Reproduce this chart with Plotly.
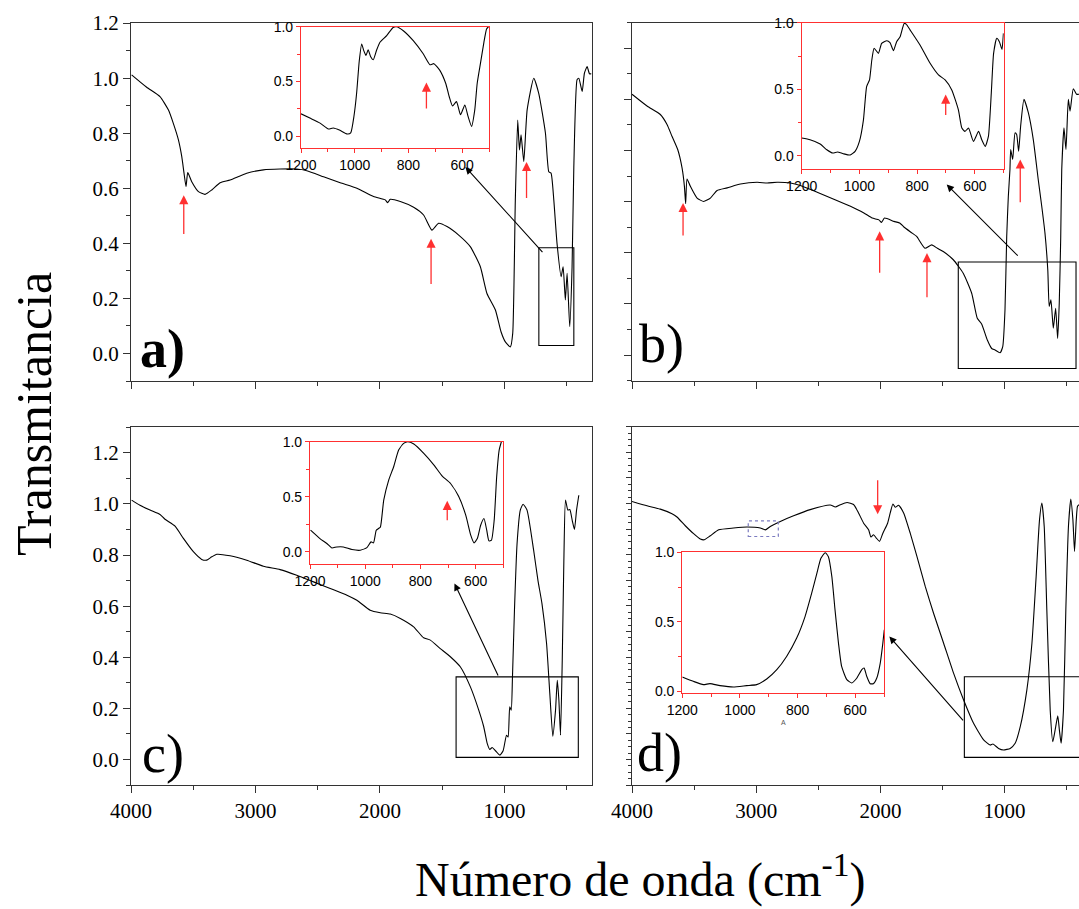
import plotly.graph_objects as go

W, H = 1079, 909

# ---------------- spectra: wavenumber (cm-1) / transmittance ----------------
# a) main spectrum
wn_a = [3995, 3874, 3767, 3700, 3660, 3619, 3592, 3574, 3558, 3544, 3512, 3458, 3405, 3351,
        3284, 3204, 3070, 2936, 2802, 2668, 2587, 2453, 2319, 2185, 2051, 1957, 1938, 1917,
        1836, 1729, 1649, 1582, 1528, 1461, 1367, 1274, 1193, 1140, 1072, 1027, 992, 952,
        933, 912, 893, 879, 866, 844, 817, 764, 724, 670, 643, 625, 603, 577, 544, 528, 510,
        496, 475, 456, 442, 416, 402, 375, 357, 335, 316, 300]
tr_a = [1.012, 0.967, 0.933, 0.885, 0.836, 0.776, 0.715, 0.655, 0.606, 0.657, 0.624, 0.588,
        0.578, 0.594, 0.620, 0.630, 0.655, 0.667, 0.670, 0.670, 0.664, 0.642, 0.620, 0.600,
        0.570, 0.558, 0.548, 0.560, 0.552, 0.531, 0.503, 0.448, 0.473, 0.461, 0.430, 0.388,
        0.315, 0.218, 0.158, 0.079, 0.042, 0.024, 0.073, 0.558, 0.848, 0.739, 0.794, 0.697,
        0.885, 1.000, 0.945, 0.800, 0.660, 0.655, 0.558, 0.400, 0.279, 0.315, 0.194, 0.291,
        0.097, 0.315, 0.679, 0.994, 1.000, 0.952, 1.018, 1.042, 1.016, 1.016]

# a) inset, 1200-500 cm-1 (normalised)
wn_a_in = [1200, 1167, 1129, 1098, 1080, 1055, 1028, 1015, 1003, 993, 983, 974, 966, 958, 950,
           941, 931, 919, 906, 881, 857, 844, 819, 782, 745, 720, 705, 683, 661, 648, 636,
           621, 606, 590, 578, 565, 553, 544, 532, 519, 509, 502]
tr_a_in = [0.205, 0.166, 0.120, 0.066, 0.075, 0.054, 0.021, 0.030, 0.180, 0.390, 0.690, 0.843,
           0.780, 0.738, 0.790, 0.729, 0.699, 0.783, 0.858, 0.919, 0.994, 1.000, 0.964, 0.873,
           0.753, 0.654, 0.663, 0.602, 0.482, 0.361, 0.277, 0.316, 0.196, 0.286, 0.181, 0.090,
           0.241, 0.482, 0.663, 0.858, 0.979, 1.000]

# b) main spectrum
wn_b = [4000, 3879, 3772, 3718, 3678, 3632, 3597, 3578, 3568, 3557, 3530, 3476, 3423, 3369,
        3315, 3234, 3127, 2993, 2912, 2832, 2724, 2644, 2509, 2375, 2241, 2133, 2066, 2012,
        1991, 1967, 1891, 1842, 1811, 1744, 1708, 1641, 1587, 1542, 1494, 1413, 1333, 1265,
        1220, 1185, 1139, 1104, 1077, 1037, 1015, 997, 983, 970, 957, 951, 935, 916, 903,
        887, 871, 844, 809, 769, 729, 701, 675, 652, 641, 627, 608, 589, 573, 560, 548, 540,
        522, 506, 487, 473, 447, 420, 401]
tr_b = [1.020, 0.974, 0.941, 0.902, 0.856, 0.804, 0.732, 0.660, 0.592, 0.689, 0.660, 0.614,
        0.601, 0.614, 0.644, 0.654, 0.669, 0.676, 0.673, 0.676, 0.673, 0.663, 0.637, 0.610,
        0.582, 0.556, 0.536, 0.529, 0.519, 0.536, 0.523, 0.516, 0.501, 0.477, 0.464, 0.418,
        0.431, 0.418, 0.405, 0.373, 0.320, 0.242, 0.144, 0.122, 0.059, 0.026, 0.020, 0.009,
        0.033, 0.176, 0.464, 0.621, 0.725, 0.804, 0.765, 0.869, 0.863, 0.797, 0.895, 1.000,
        0.948, 0.843, 0.686, 0.582, 0.477, 0.330, 0.190, 0.216, 0.105, 0.183, 0.065, 0.203,
        0.464, 0.725, 0.889, 0.804, 1.000, 0.954, 1.042, 1.020, 1.020]

# b) inset
wn_b_in = [1200, 1171, 1136, 1113, 1092, 1076, 1056, 1032, 1015, 1000, 986, 975, 965, 957, 949,
           934, 923, 905, 894, 882, 871, 859, 845, 838, 824, 790, 755, 726, 703, 680, 657,
           645, 634, 622, 605, 587, 576, 564, 553, 543, 535, 524, 515, 506, 501]
tr_b_in = [0.133, 0.120, 0.088, 0.045, 0.020, 0.028, 0.015, 0.005, 0.033, 0.108, 0.270, 0.520,
           0.570, 0.720, 0.808, 0.770, 0.845, 0.865, 0.850, 0.790, 0.858, 0.895, 0.995, 0.990,
           0.945, 0.833, 0.695, 0.608, 0.570, 0.495, 0.345, 0.208, 0.183, 0.208, 0.108, 0.183,
           0.120, 0.070, 0.145, 0.470, 0.770, 0.883, 0.858, 0.800, 0.920]

# c) main spectrum
wn_c = [3995, 3928, 3847, 3767, 3727, 3646, 3579, 3499, 3432, 3391, 3351, 3311, 3204, 3070,
        2936, 2802, 2668, 2533, 2399, 2265, 2185, 2078, 1997, 1917, 1836, 1729, 1649, 1595,
        1515, 1434, 1353, 1273, 1206, 1166, 1138, 1117, 1098, 1072, 1037, 1010, 983, 970,
        957, 945, 935, 919, 898, 872, 850, 818, 765, 730, 698, 661, 635, 611, 589, 575, 562,
        549, 535, 522, 509, 490, 474, 455, 437, 420, 402]
tr_c = [1.015, 0.995, 0.976, 0.959, 0.940, 0.913, 0.865, 0.813, 0.783, 0.780, 0.793, 0.803,
        0.797, 0.780, 0.756, 0.743, 0.721, 0.695, 0.669, 0.643, 0.623, 0.584, 0.574, 0.569,
        0.552, 0.519, 0.476, 0.467, 0.434, 0.402, 0.362, 0.284, 0.193, 0.128, 0.063, 0.039,
        0.047, 0.034, 0.017, 0.034, 0.095, 0.088, 0.206, 0.193, 0.323, 0.584, 0.845, 0.976,
        0.999, 0.976, 0.819, 0.700, 0.610, 0.454, 0.258, 0.091, 0.193, 0.310, 0.232, 0.095,
        0.388, 0.780, 1.015, 0.976, 0.978, 0.936, 0.900, 0.976, 1.034]

# c) inset
wn_c_in = [1198, 1164, 1139, 1121, 1103, 1079, 1048, 1018, 994, 979, 970, 960, 952, 945, 933,
           915, 897, 879, 861, 846, 824, 788, 751, 721, 691, 661, 636, 618, 606, 594, 582,
           570, 560, 552, 543, 533, 524, 515, 507]
tr_c_in = [0.197, 0.121, 0.076, 0.036, 0.045, 0.045, 0.021, 0.015, 0.039, 0.091, 0.082, 0.197,
           0.212, 0.227, 0.470, 0.652, 0.773, 0.924, 0.985, 1.000, 0.979, 0.894, 0.788, 0.688,
           0.621, 0.500, 0.333, 0.152, 0.082, 0.121, 0.242, 0.303, 0.197, 0.100, 0.106, 0.288,
           0.682, 0.924, 1.000]

# d) main spectrum
wn_d = [4000, 3879, 3772, 3678, 3638, 3571, 3504, 3450, 3418, 3369, 3302, 3182, 3074, 2967,
        2927, 2887, 2806, 2699, 2565, 2404, 2363, 2323, 2269, 2216, 2176, 2135, 2095, 2076,
        2055, 2033, 2007, 1980, 1942, 1921, 1899, 1880, 1854, 1813, 1760, 1706, 1639, 1572,
        1491, 1411, 1330, 1250, 1169, 1116, 1094, 1049, 1009, 955, 915, 874, 821, 780, 746,
        719, 700, 681, 660, 633, 612, 593, 572, 559, 545, 526, 507, 486, 467, 450, 437, 423,
        413, 400]
tr_d = [1.008, 0.991, 0.978, 0.960, 0.947, 0.913, 0.882, 0.861, 0.858, 0.874, 0.897, 0.904,
        0.908, 0.904, 0.897, 0.910, 0.930, 0.952, 0.976, 0.994, 0.986, 0.995, 1.004, 0.996,
        0.963, 0.923, 0.897, 0.869, 0.878, 0.865, 0.852, 0.884, 0.923, 0.963, 0.998, 0.985,
        0.993, 0.963, 0.884, 0.793, 0.676, 0.571, 0.454, 0.337, 0.232, 0.141, 0.076, 0.056,
        0.060, 0.043, 0.037, 0.043, 0.063, 0.128, 0.271, 0.454, 0.715, 0.936, 1.002, 0.910,
        0.584, 0.193, 0.069, 0.115, 0.170, 0.115, 0.063, 0.193, 0.584, 0.910, 1.017, 0.936,
        0.813, 0.936, 0.989, 0.995]

# d) inset
wn_d_in = [1200, 1162, 1127, 1104, 1069, 1023, 977, 942, 907, 872, 838, 803, 774, 751, 733,
           719, 704, 693, 681, 670, 658, 647, 629, 612, 594, 577, 569, 560, 548, 537, 525,
           513, 504, 499]
tr_d_in = [0.103, 0.072, 0.048, 0.055, 0.041, 0.031, 0.041, 0.048, 0.089, 0.156, 0.251, 0.383,
           0.538, 0.706, 0.849, 0.957, 0.998, 0.969, 0.825, 0.586, 0.347, 0.179, 0.084, 0.060,
           0.096, 0.156, 0.167, 0.108, 0.055, 0.055, 0.096, 0.203, 0.347, 0.443]

# ---------------- styling ----------------
AXC = "#333333"
RED = "#ff3030"
SERIF = "Liberation Serif, Times New Roman, serif"
SANS = "Liberation Sans, Arial, sans-serif"


def dom_x(left, right):
    return [left / W, min(right / W, 1.0)]


def dom_y(top, bottom):
    return [1 - bottom / H, 1 - top / H]


fig = go.Figure()

series = [
    (wn_a, tr_a, "x", "y"), (wn_b, tr_b, "x2", "y2"),
    (wn_c, tr_c, "x3", "y3"), (wn_d, tr_d, "x4", "y4"),
    (wn_a_in, tr_a_in, "x5", "y5"), (wn_b_in, tr_b_in, "x6", "y6"),
    (wn_c_in, tr_c_in, "x7", "y7"), (wn_d_in, tr_d_in, "x8", "y8"),
]
for xs, ys, xa, ya in series:
    fig.add_trace(go.Scatter(x=xs, y=ys, xaxis=xa, yaxis=ya, mode="lines",
                             line=dict(color="black", width=1.1, shape="spline", smoothing=0.5),
                             showlegend=False, hoverinfo="skip"))

layout = {}

# main panels: index, x pixels, y pixels, x range, y range, x labels, y labels, y minor step, right frame
mains = [
    (1, (131, 591.5), (23, 381), [4000, 300], [-0.1, 1.2005], False, True, 0.1, True),
    (2, (632, 1079), (22.7, 380.7), [4000, 401], [-0.1, 1.3], False, False, 0.1, False),
    (3, (131, 591.5), (427.3, 785), [4000, 300], [-0.1, 1.3], True, True, 0.1, True),
    (4, (632, 1079), (426.7, 785), [4000, 401], [-0.1, 1.3], True, False, 0.025, False),
]
for i, xd, yd, xr, yr, xlab, ylab, ymin, rframe in mains:
    s = "" if i == 1 else str(i)
    layout["xaxis" + s] = dict(
        domain=dom_x(*xd), range=xr, anchor="y" + s, showline=True, linecolor=AXC,
        linewidth=1.2, mirror=True, ticks="outside", ticklen=7, tickwidth=1.2,
        tickcolor=AXC, tick0=0, dtick=1000, automargin=False,
        minor=dict(dtick=500, ticks="outside", ticklen=4, tickwidth=1, tickcolor=AXC),
        showgrid=False, zeroline=False, showticklabels=xlab,
        tickfont=dict(family=SERIF, size=21, color="black"))
    layout["yaxis" + s] = dict(
        domain=dom_y(*yd), range=yr, anchor="x" + s, showline=True, linecolor=AXC,
        linewidth=1.2, mirror=rframe, ticks="outside", automargin=False,
        ticklen=7 if ymin == 0.1 else 5, tickwidth=1.2, tickcolor=AXC,
        tick0=0, dtick=0.2 if ymin == 0.1 else 0.1, tickformat=".1f",
        minor=dict(dtick=ymin, ticks="outside", ticklen=4 if ymin == 0.1 else 3,
                   tickwidth=1, tickcolor=AXC),
        showgrid=False, zeroline=False, showticklabels=ylab,
        tickfont=dict(family=SERIF, size=21, color="black"))

# insets: index, x pixels, y pixels, y range
insets = [
    (5, (301, 489), (26.7, 148.3), [-0.11, 1.0005]),
    (6, (801.7, 1003.7), (22.7, 169), [-0.1, 1.0005]),
    (7, (310, 503.3), (441.7, 564), [-0.11, 1.0005]),
    (8, (682.3, 884), (552.3, 692.7), [-0.01, 1.0005]),
]
for i, xd, yd, yr in insets:
    s = str(i)
    common = dict(showline=True, linecolor=RED, linewidth=1.2, mirror=True,
                  ticks="outside", ticklen=4, tickwidth=1, tickcolor=RED,
                  showgrid=False, zeroline=False, automargin=False,
                  tickfont=dict(family=SANS, size=14, color="black"))
    layout["xaxis" + s] = dict(domain=dom_x(*xd), range=[1200, 500], anchor="y" + s,
                               tick0=0, dtick=200,
                               minor=dict(dtick=100, ticks="outside", ticklen=3,
                                          tickcolor=RED), **common)
    layout["yaxis" + s] = dict(domain=dom_y(*yd), range=yr, anchor="x" + s,
                               tick0=0, dtick=0.5, tickformat=".1f",
                               minor=dict(dtick=0.25, ticks="outside", ticklen=3,
                                          tickcolor=RED), **common)

shapes = []
# zoom boxes in the main panels
for xa, ya, x0, x1, y0, y1 in [("x", "y", 723, 442, 0.029, 0.384),
                               ("x2", "y2", 1373, 425, -0.052, 0.364),
                               ("x3", "y3", 1388, 406, 0.008, 0.323),
                               ("x4", "y4", 1324, 350, 0.008, 0.323)]:
    shapes.append(dict(type="rect", xref=xa, yref=ya, x0=x0, x1=x1, y0=y0, y1=y1,
                       line=dict(color="black", width=1.1)))
# dotted marker in panel d
shapes.append(dict(type="rect", xref="x4", yref="y4", x0=3064, x1=2822, y0=0.871, y1=0.932,
                   line=dict(color="#7b7bc0", width=1.2, dash="dot")))

annotations = []
# red band markers: axis, wavenumber, head, tail
red_marks = [
    ("x", "y", 3576, 0.575, 0.429), ("x", "y", 1589, 0.417, 0.247),
    ("x", "y", 822, 0.696, 0.559), ("x5", "y5", 733, 0.49, 0.24),
    ("x2", "y2", 3589, 0.595, 0.462), ("x2", "y2", 2006, 0.484, 0.316),
    ("x2", "y2", 1625, 0.399, 0.22), ("x2", "y2", 874, 0.765, 0.592),
    ("x6", "y6", 701, 0.46, 0.295), ("x7", "y7", 703, 0.464, 0.273),
    ("x4", "y4", 2022, 0.958, 1.097),
]
for xa, ya, x, yh, yt in red_marks:
    annotations.append(dict(xref=xa, yref=ya, axref=xa, ayref=ya, x=x, y=yh, ax=x, ay=yt,
                            text="", showarrow=True, arrowhead=2, arrowsize=1.4,
                            arrowwidth=1.3, arrowcolor=RED))
# black pointers from zoom box to inset
for xa, ya, xh, yh, xt, yt in [("x", "y", 1313, 0.677, 683, 0.363),
                               ("x2", "y2", 1466, 0.667, 882, 0.383),
                               ("x3", "y3", 1401, 0.689, 1045, 0.323),
                               ("x4", "y4", 1928, 0.48, 1324, 0.147)]:
    annotations.append(dict(xref=xa, yref=ya, axref=xa, ayref=ya, x=xh, y=yh, ax=xt, ay=yt,
                            text="", showarrow=True, arrowhead=2, arrowsize=1.3,
                            arrowwidth=1.1, arrowcolor="black"))

# panel letters
for txt, px, py in [("<b>a)</b>", 138, 349), ("b)", 637, 344),
                    ("c)", 140, 754), ("d)", 635, 753)]:
    annotations.append(dict(xref="paper", yref="paper", x=px / W, y=1 - py / H,
                            xanchor="left", yanchor="middle", text=txt, showarrow=False,
                            font=dict(family=SERIF, size=54, color="black")))

annotations.append(dict(xref="paper", yref="paper", x=783 / W, y=1 - 722 / H, text="A",
                        xanchor="center", yanchor="middle", showarrow=False,
                        font=dict(family=SANS, size=7, color="#555555")))

# axis titles
annotations.append(dict(xref="paper", yref="paper", x=34 / W, y=1 - 414 / H,
                        xanchor="center", yanchor="middle",
                        text="Transmitancia", textangle=-90, showarrow=False,
                        font=dict(family=SERIF, size=50, color="black")))
annotations.append(dict(xref="paper", yref="paper", x=640 / W, y=0,
                        xanchor="center", yanchor="bottom",
                        text="Número de onda (cm<sup>-1</sup>)", showarrow=False,
                        font=dict(family=SERIF, size=48, color="black")))

fig.update_layout(width=W, height=H, margin=dict(l=0, r=0, t=0, b=0, autoexpand=False),
                  paper_bgcolor="white", plot_bgcolor="white",
                  shapes=shapes, annotations=annotations, **layout)

fig.write_html("out.html")
